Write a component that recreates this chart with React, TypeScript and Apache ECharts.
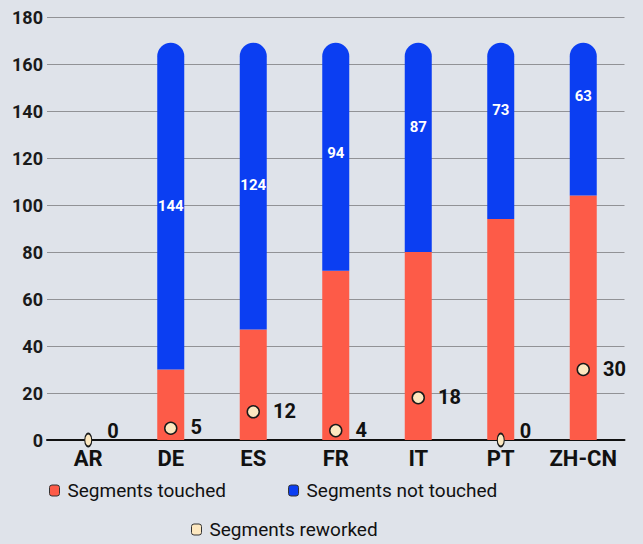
import React, { useEffect, useRef } from "react";
import * as echarts from "echarts";

const categories = ["AR", "DE", "ES", "FR", "IT", "PT", "ZH-CN"];
const segmentsTouched = [0, 30, 47, 72, 80, 94, 104];
const segmentsNotTouched = [0, 144, 124, 94, 87, 73, 63];
// top of each stacked bar as drawn in the picture
const barTops = [0, 169, 169, 169, 169, 169, 169];
const segmentsReworked = [0, 5, 12, 4, 18, 0, 30];
const yMin = 0;
const yMax = 180;
const yInterval = 20;

// label styling tweaks (not data)
const blueLabelShift = [0, 0, -1, -4, -20, -21, -23];

const RED = "#fd5b48";
const BLUE = "#0b3ef2";
const CREAM = "#fde8c0";
const BG = "#dfe3ea";
const FONT = "Roboto, 'Liberation Sans', sans-serif";

export default function App() {
  const ref = useRef<HTMLDivElement>(null);
  useEffect(() => {
    document.body.style.margin = "0";
    document.body.style.background = BG;
    const chart = echarts.init(ref.current!, null, { renderer: "svg" });
    const legendText = { fontSize: 19, color: "#111", fontFamily: FONT, padding: [0, 0, 0, 3] };
    const option: any = {
      animation: false,
      backgroundColor: BG,
      textStyle: { fontFamily: FONT },
      grid: { left: 47, right: 18.5, top: 17, bottom: 104, containLabel: false },
      legend: [
        {
          data: ["Segments touched", "Segments not touched"],
          left: 49,
          top: 481,
          padding: 0,
          icon: "roundRect",
          itemWidth: 10,
          itemHeight: 11,
          itemGap: 62,
          itemStyle: { borderColor: "#333", borderWidth: 1 },
          textStyle: legendText,
        },
        {
          data: ["Segments reworked"],
          left: 191,
          top: 520,
          padding: 0,
          icon: "roundRect",
          itemWidth: 10,
          itemHeight: 11,
          itemStyle: { borderColor: "#333", borderWidth: 1 },
          textStyle: legendText,
        },
      ],
      xAxis: {
        type: "category",
        data: categories,
        axisTick: { show: false },
        axisLine: { lineStyle: { color: "#111", width: 2 } },
        axisLabel: {
          interval: 0,
          fontSize: 22,
          fontWeight: "bold",
          color: "#111",
          margin: 7,
          fontFamily: FONT,
        },
      },
      yAxis: {
        type: "value",
        min: yMin,
        max: yMax,
        interval: yInterval,
        axisLine: { show: false },
        axisTick: { show: false },
        axisLabel: { fontSize: 18, fontWeight: "bold", color: "#1a1a1a", margin: 4, fontFamily: FONT },
        splitLine: { lineStyle: { color: "rgba(80,80,80,0.55)", width: 1.2 } },
      },
      series: [
        {
          name: "Segments touched",
          type: "bar",
          stack: "seg",
          barWidth: 27,
          itemStyle: { color: RED },
          data: segmentsTouched,
        },
        {
          name: "Segments not touched",
          type: "bar",
          stack: "seg",
          barWidth: 27,
          itemStyle: { color: BLUE, borderRadius: [14, 14, 0, 0] },
          data: categories.map((_, i) => ({
            value: barTops[i] - segmentsTouched[i],
            label: {
              show: segmentsNotTouched[i] > 0,
              position: "inside",
              formatter: String(segmentsNotTouched[i]),
              color: "#fff",
              fontSize: 15,
              fontWeight: "bold",
              fontFamily: FONT,
              offset: [0, blueLabelShift[i]],
            },
          })),
        },
        {
          name: "Segments reworked",
          type: "scatter",
          itemStyle: { color: CREAM, borderColor: "#1a1a1a", borderWidth: 1.5, opacity: 1 },
          data: segmentsReworked.map((v) => ({
            value: v,
            symbolSize: v === 0 ? [7, 13] : 12,
            label: {
              show: true,
              position: "right",
              distance: v === 0 ? 15 : 13,
              offset: v === 0 ? [0, -9] : [0, -1],
              formatter: String(v),
              color: "#111",
              fontSize: 20,
              fontWeight: "bold",
              fontFamily: FONT,
            },
          })),
        },
      ],
    };
    chart.setOption(option);
    return () => chart.dispose();
  }, []);
  return (
    <div
      ref={ref}
      style={{ position: "absolute", left: 0, top: 0, width: 643, height: 544 }}
    />
  );
}
